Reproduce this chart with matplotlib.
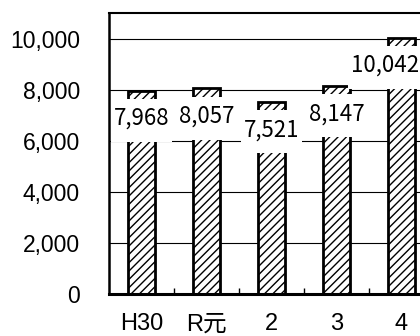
import numpy as np
from matplotlib import pyplot as plt
from matplotlib.patches import Rectangle
from matplotlib.transforms import IdentityTransform
from matplotlib.ticker import FuncFormatter, FixedLocator

# data
years = ["H30", "R元", "2", "3", "4"]
counts = [7968, 8057, 7521, 8147, 10042]
y_ticks = [0, 2000, 4000, 6000, 8000, 10000]

fig = plt.figure(figsize=(4.2, 3.36), dpi=100)
# axes runs off the right edge, as in the reference
ax = fig.add_axes([0.2595, 0.125, 0.7738, 0.836])

x = np.arange(len(years))
ax.bar(x, counts, width=0.41, color="white", edgecolor="black",
       linewidth=2, hatch="////", zorder=2)

ax.set_xlim(-0.5, len(years) - 0.5)
ax.set_ylim(0, 11000)
ax.set_yticks(y_ticks)
ax.yaxis.set_major_formatter(FuncFormatter(lambda v, p: f"{int(v):,}"))
ax.grid(axis="y", color="black", linewidth=0.8, zorder=1)
ax.set_axisbelow(True)

ax.set_xticks(x)
ax.set_xticklabels(years, family=["Liberation Sans", "Noto Sans CJK JP"],
                   fontsize=17)
ax.tick_params(axis="x", which="major", length=0, pad=14)
ax.xaxis.set_minor_locator(FixedLocator(x[:-1] + 0.5))
ax.tick_params(axis="x", which="minor", direction="in", length=4,
               width=1, color="black")
ax.tick_params(axis="y", length=0, pad=21, labelsize=16.5)
for lab in ax.get_yticklabels():
    lab.set_family("Liberation Sans")

ax.spines["left"].set_linewidth(1.8)
ax.spines["bottom"].set_linewidth(2.2)
ax.spines["top"].set_linewidth(1.5)
ax.spines["right"].set_visible(False)

# value labels just under the bar tops
labels = []
for xi, v in zip(x, counts):
    t = ax.annotate(f"{v:,}", (xi, v), xytext=(0, -20),
                    textcoords="offset points", ha="center", va="center",
                    fontsize=16, family=["Noto Sans CJK JP", "DejaVu Sans"],
                    zorder=6, annotation_clip=False)
    labels.append(t)

# like the spreadsheet, pull labels back inside the picture
fig.canvas.draw()
rend = fig.canvas.get_renderer()
fig_w = fig.bbox.width
for t in labels:
    bb = t.get_window_extent(rend)
    if bb.x1 > fig_w:
        dx = (bb.x1 - fig_w + 1) * 72 / fig.dpi
        ox, oy = t.xyann
        t.xyann = (ox - dx, oy)

# tall narrow white boxes behind the labels (pixel units)
fig.canvas.draw()
box_h = 43
for t in labels:
    bb = t.get_window_extent(rend)
    yc = (bb.y0 + bb.y1) / 2 - 2
    r = Rectangle((bb.x0 - 3, yc - box_h / 2), bb.width + 6, box_h,
                  transform=IdentityTransform(), facecolor="white",
                  edgecolor="none", zorder=5, clip_on=False)
    ax.add_artist(r)

fig.savefig("out.png", dpi=100)
